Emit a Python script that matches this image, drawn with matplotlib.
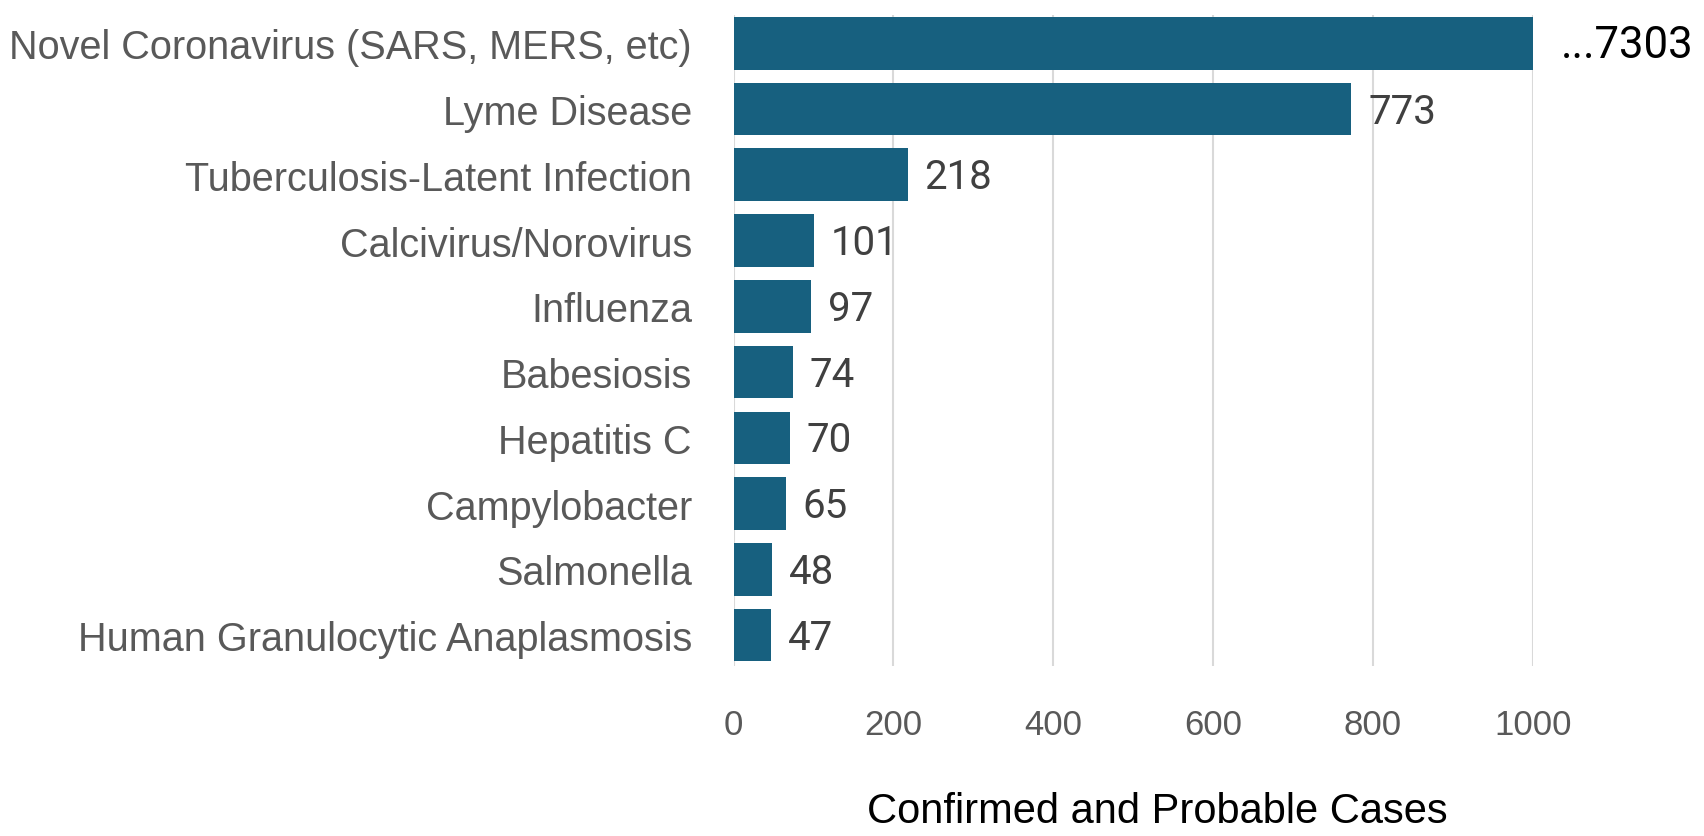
import matplotlib.pyplot as plt
import numpy as np

diseases = [
    'Novel Coronavirus (SARS, MERS, etc)',
    'Lyme Disease',
    'Tuberculosis-Latent Infection',
    'Calcivirus/Norovirus',
    'Influenza',
    'Babesiosis',
    'Hepatitis C',
    'Campylobacter',
    'Salmonella',
    'Human Granulocytic Anaplasmosis',
]
cases = [7303, 773, 218, 101, 97, 74, 70, 65, 48, 47]
x_ticks = [0, 200, 400, 600, 800, 1000]
x_max = 1000

plt.rcParams['font.family'] = ['Liberation Sans', 'DejaVu Sans']

fig = plt.figure(figsize=(17.04, 8.37), dpi=100)
ax = fig.add_axes([0.4305, 0.2031, 0.4691, 0.7778])

y = np.arange(len(diseases))
ax.barh(y, cases, height=0.8, color='#17607f', zorder=3)
ax.set_ylim(len(diseases) - 0.53, -0.43)
ax.set_xlim(0, x_max)

# bars past the axis limit get clipped, label shows the real value
for i, v in enumerate(cases):
    if v > x_max:
        ax.annotate(f'...{v}', xy=(x_max, i), xytext=(20, -1), textcoords='offset points',
                    va='center', ha='left', fontsize=31.5, color='black',
                    family=['Roboto', 'DejaVu Sans'], annotation_clip=False)
    else:
        ax.annotate(f'{v}', xy=(v, i), xytext=(12, -1.5), textcoords='offset points',
                    va='center', ha='left', fontsize=29, color='#404040',
                    family=['Roboto', 'DejaVu Sans'])

ax.set_yticks(y)
ax.set_yticklabels(diseases, fontsize=28.5, color='#595959')
ax.set_xticks(x_ticks)
ax.set_xticklabels([str(t) for t in x_ticks], fontsize=25, color='#595959')
ax.tick_params(axis='both', length=0)
ax.tick_params(axis='y', pad=30)
ax.tick_params(axis='x', pad=30)

ax.grid(axis='x', color='#d9d9d9', linewidth=1.5, zorder=0)
for s in ax.spines.values():
    s.set_visible(False)

ax.set_xlabel('Confirmed and Probable Cases', fontsize=30, color='black')
ax.xaxis.set_label_coords(0.53, -0.192)

fig.savefig('out.png', dpi=100)
